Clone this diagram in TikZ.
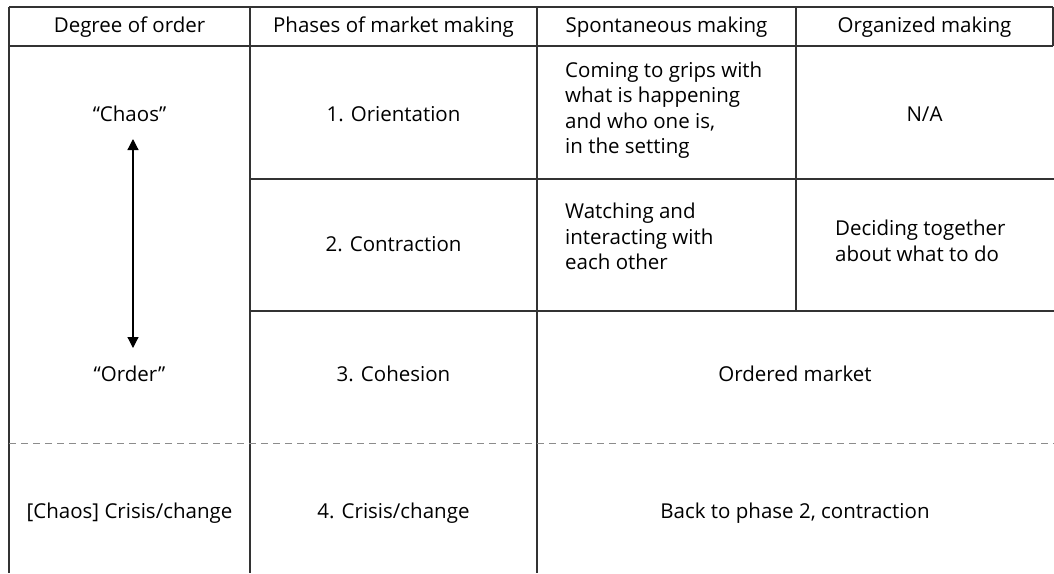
\documentclass[tikz,border=0pt]{standalone}
\usepackage{fontspec}
\setmainfont{Open Sans}
\usetikzlibrary{arrows.meta}
\begin{document}
\begin{tikzpicture}[x=1pt,y=-1pt,
  gridline/.style={draw=black!80, line width=1.3pt},
  dashline/.style={draw=black!45, line width=1pt, dash pattern=on 7pt off 5pt},
  ctxt/.style={font=\fontsize{20.5}{25.5}\selectfont, inner sep=0pt, anchor=base},
  ltxt/.style={font=\fontsize{20.5}{25.5}\selectfont, inner sep=0pt, align=left, anchor=north west},
  dblarrow/.style={draw=black, line width=1.2pt, {Triangle[length=11pt,width=11pt]}-{Triangle[length=11pt,width=11pt]}}
]
\useasboundingbox (0,0) rectangle (1054,573);
% grid
\draw[gridline] (9,7) -- (1053,7);
\draw[gridline] (9,46) -- (1053,46);
\draw[gridline] (1053,7) -- (1053,46);
\draw[gridline] (9,7) -- (9,573);
\draw[gridline] (250,7) -- (250,573);
\draw[gridline] (537,7) -- (537,573);
\draw[gridline] (796,7) -- (796,311);
\draw[gridline] (250,179) -- (1054,179);
\draw[gridline] (250,311) -- (1054,311);
\draw[dashline] (9,443) -- (1054,443);
% header
\node[ctxt] (h1) at (129.5,32) {Degree of order};
\node[ctxt] (h2) at (393.5,32) {Phases of market making};
\node[ctxt] (h3) at (666.5,32) {Spontaneous making};
\node[ctxt] (h4) at (924.5,32) {Organized making};
% row 1
\node[ctxt] (chaos) at (129.5,121) {“Chaos”};
\node[ctxt] (p1) at (393.5,121) {1. Orientation};
\node[ltxt] (s1) at (565,61.4) {Coming to grips with\\what is happening\\and who one is,\\in the setting};
\node[ctxt] (o1) at (924.5,121) {N/A};
% row 2
\node[ctxt] (p2) at (393.5,251) {2. Contraction};
\node[ltxt] (s2) at (565,203.2) {Watching and\\interacting with\\each other};
\node[ltxt] (o2) at (835,220.2) {Deciding together\\about what to do};
% row 3
\node[ctxt] (order) at (129.5,381) {“Order”};
\node[ctxt] (p3) at (393.5,381) {3. Cohesion};
\node[ctxt] (m3) at (795,381) {Ordered market};
% row 4
\node[ctxt] (c4) at (129.5,518) {[Chaos] Crisis/change};
\node[ctxt] (p4) at (393.5,518) {4. Crisis/change};
\node[ctxt] (m4) at (795,518) {Back to phase 2, contraction};
% arrow
\coordinate (atop) at (133,139);
\coordinate (abot) at (133,348);
\draw[dblarrow] (atop) -- (abot);
\end{tikzpicture}
\end{document}
